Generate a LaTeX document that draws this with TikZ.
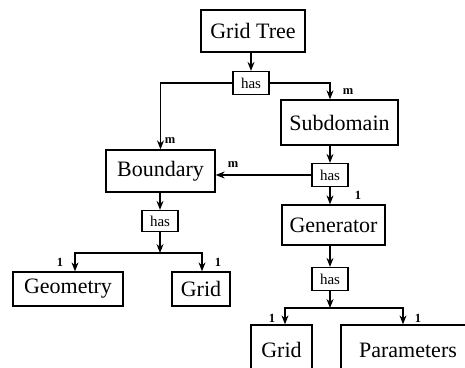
\documentclass[tikz,border=0pt]{standalone}
\usepackage{fontspec}
\setmainfont{Liberation Serif}
\usetikzlibrary{arrows.meta}
\begin{document}
\begin{tikzpicture}[x=1pt,y=-1pt,
  box/.style={draw,line width=1.3pt,inner sep=0pt,font=\fontsize{22}{24}\selectfont},
  hasbox/.style={draw,line width=1.2pt,inner sep=0pt,minimum width=36pt,minimum height=23pt,font=\fontsize{15}{17}\selectfont},
  arr/.style={line width=1.2pt,-{Stealth[length=9pt,width=7pt]}},
  lab/.style={font=\fontsize{12.5}{13}\selectfont\bfseries,inner sep=0pt}]
\clip (0,0) rectangle (465,367);
\node[box,minimum width=104pt,minimum height=42pt] (gt) at (253,31) {Grid Tree};
\node[hasbox] (has1) at (251,83) {has};
\node[box,minimum width=117pt,minimum height=45pt] (sd) at (339.5,122.5) {Subdomain};
\node[hasbox] (has2) at (330,175) {has};
\node[box,minimum width=109pt,minimum height=42pt] (bd) at (160.5,171) {Boundary};
\node[hasbox,minimum height=21pt] (has3) at (160,221) {has};
\node[box,minimum width=103pt,minimum height=40pt] (gen) at (333.5,225) {Generator};
\node[hasbox] (has4) at (330,279) {has};
\node[box,minimum width=110pt,minimum height=34pt] (geo) at (68,289) {Geometry};
\node[box,minimum width=58pt,minimum height=34pt] (gl) at (201,289) {Grid};
\node[box,minimum width=61pt,minimum height=50pt] (gb) at (281.5,350) {Grid};
\node[box,minimum width=134pt,minimum height=50pt] (par) at (408,350) {Parameters};
\coordinate (j3) at (160,253);
\coordinate (j4) at (330,308);
\draw[arr] (gt.south -| has1) -- (has1.north);
\draw[arr] (has1.west) -| (bd.north);
\draw[arr] (has1.east) -| (sd.north -| has2);
\draw[arr] (sd.south -| has2) -- (has2.north);
\draw[arr] (has2.west) -- (has2.west -| bd.east);
\draw[arr] (has2.south) -- (has2.south |- gen.north);
\draw[arr] (bd.south -| has3) -- (has3.north);
\draw[arr] (gen.south -| has4) -- (has4.north);
\draw[arr] (has3.south) -- (j3);
\draw[arr] (j3) -| ([xshift=7pt]geo.north);
\draw[arr] (j3) -| ([xshift=1pt]gl.north);
\draw[arr] (has4.south) -- (j4);
\draw[arr] (j4) -| ([xshift=3.5pt]gb.north);
\draw[arr] (j4) -| ([xshift=-5pt]par.north);
\node[lab] (m1) at (348,92) {m};
\node[lab] (m2) at (170,141) {m};
\node[lab] (m3) at (233,165) {m};
\node[lab] (o1) at (358,195) {1};
\node[lab] (o2) at (60,262) {1};
\node[lab] (o3) at (218,262) {1};
\node[lab] (o4) at (272,318) {1};
\node[lab] (o5) at (418,318) {1};
\end{tikzpicture}
\end{document}
